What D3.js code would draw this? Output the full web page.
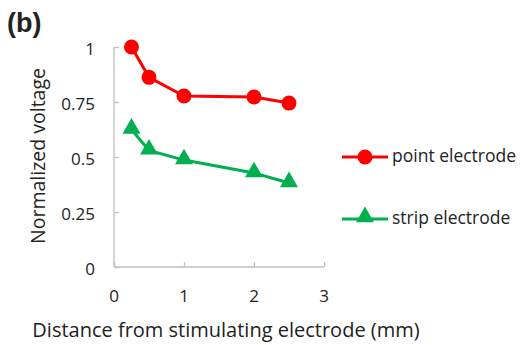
<!DOCTYPE html>
<html>
<head>
<meta charset="utf-8">
<script src="https://cdn.jsdelivr.net/npm/d3@7"></script>
<style>
  body { margin: 0; background: #fff; }
  svg text { font-family: "Open Sans", sans-serif; fill: #222; }
</style>
</head>
<body>
<svg width="524" height="345"></svg>
<script>
// values
var distance = [0.25, 0.5, 1, 2, 2.5];
var pointElectrode = [1.0, 0.862, 0.777, 0.773, 0.745];
var stripElectrode = [0.625, 0.53, 0.486, 0.427, 0.382];
var xTicks = [0, 1, 2, 3];
var yTicks = [0, 0.25, 0.5, 0.75, 1];
var yTickLabels = ["0", "0.25", "0.5", "0.75", "1"];

var svg = d3.select("svg");

var x = d3.scaleLinear().domain([0, 3]).range([114, 324]);
var y = d3.scaleLinear().domain([0, 1]).range([267, 47]);

var axisColor = "#bfbfbf";

// x axis, ticks pointing up into the plot
var xAxis = svg.append("g")
  .attr("transform", "translate(0,267)")
  .call(d3.axisTop(x).tickValues(xTicks).tickSize(5).tickFormat(""));
xAxis.select(".domain").attr("stroke", axisColor).attr("stroke-width", 1.3)
  .attr("d", "M114,0H324");
xAxis.selectAll(".tick line").attr("stroke", axisColor).attr("stroke-width", 1.3);

svg.append("g").selectAll("text")
  .data(xTicks)
  .join("text")
  .attr("x", function (d) { return x(d); })
  .attr("y", 302)
  .attr("text-anchor", "middle")
  .attr("font-size", 17)
  .text(function (d) { return d; });

// y axis, ticks pointing right
var yAxis = svg.append("g")
  .attr("transform", "translate(114,0)")
  .call(d3.axisRight(y).tickValues(yTicks).tickSize(5).tickFormat(""));
yAxis.select(".domain").attr("stroke", axisColor).attr("stroke-width", 1.3)
  .attr("d", "M0,47V267");
yAxis.selectAll(".tick line").attr("stroke", axisColor).attr("stroke-width", 1.3);

svg.append("g").selectAll("text")
  .data(yTicks)
  .join("text")
  .attr("x", 95)
  .attr("y", function (d) { return y(d) + 8; })
  .attr("text-anchor", "end")
  .attr("font-size", 17)
  .text(function (d, i) { return yTickLabels[i]; });

// series
var line = d3.line()
  .x(function (d) { return x(d[0]); })
  .y(function (d) { return y(d[1]); });

var red = "#ff0000", green = "#00b050";

svg.append("path")
  .datum(d3.zip(distance, pointElectrode))
  .attr("fill", "none").attr("stroke", red).attr("stroke-width", 3)
  .attr("d", line);
svg.append("g").selectAll("circle")
  .data(d3.zip(distance, pointElectrode))
  .join("circle")
  .attr("cx", function (d) { return x(d[0]); })
  .attr("cy", function (d) { return y(d[1]); })
  .attr("r", 7.5)
  .attr("fill", red);

var tri = d3.symbol().type(d3.symbolTriangle).size(140);
svg.append("path")
  .datum(d3.zip(distance, stripElectrode))
  .attr("fill", "none").attr("stroke", green).attr("stroke-width", 3)
  .attr("d", line);
svg.append("g").selectAll("path")
  .data(d3.zip(distance, stripElectrode))
  .join("path")
  .attr("transform", function (d) { return "translate(" + x(d[0]) + "," + (y(d[1]) - 1) + ")"; })
  .attr("d", tri)
  .attr("fill", green);

// legend
var legend = svg.append("g");
legend.append("line").attr("x1", 342).attr("x2", 388).attr("y1", 157).attr("y2", 157)
  .attr("stroke", red).attr("stroke-width", 3);
legend.append("circle").attr("cx", 365).attr("cy", 157).attr("r", 7.5).attr("fill", red);
legend.append("text").attr("x", 392).attr("y", 162).attr("font-size", 17.5).text("point electrode");

legend.append("line").attr("x1", 342).attr("x2", 388).attr("y1", 219).attr("y2", 219)
  .attr("stroke", green).attr("stroke-width", 3);
legend.append("path").attr("transform", "translate(365,217)").attr("d", tri).attr("fill", green);
legend.append("text").attr("x", 392).attr("y", 224).attr("font-size", 17.5).text("strip electrode");

// axis titles
svg.append("text")
  .attr("transform", "translate(45,156) rotate(-90)")
  .attr("text-anchor", "middle")
  .attr("font-size", 19.5)
  .text("Normalized voltage");

svg.append("text")
  .attr("x", 226)
  .attr("y", 337)
  .attr("text-anchor", "middle")
  .attr("font-size", 20)
  .text("Distance from stimulating electrode (mm)");

svg.append("text")
  .attr("x", 7)
  .attr("y", 32)
  .attr("font-size", 27)
  .attr("font-weight", "bold")
  .style("font-family", "Liberation Sans, Arial, sans-serif")
  .text("(b)");
</script>
</body>
</html>
